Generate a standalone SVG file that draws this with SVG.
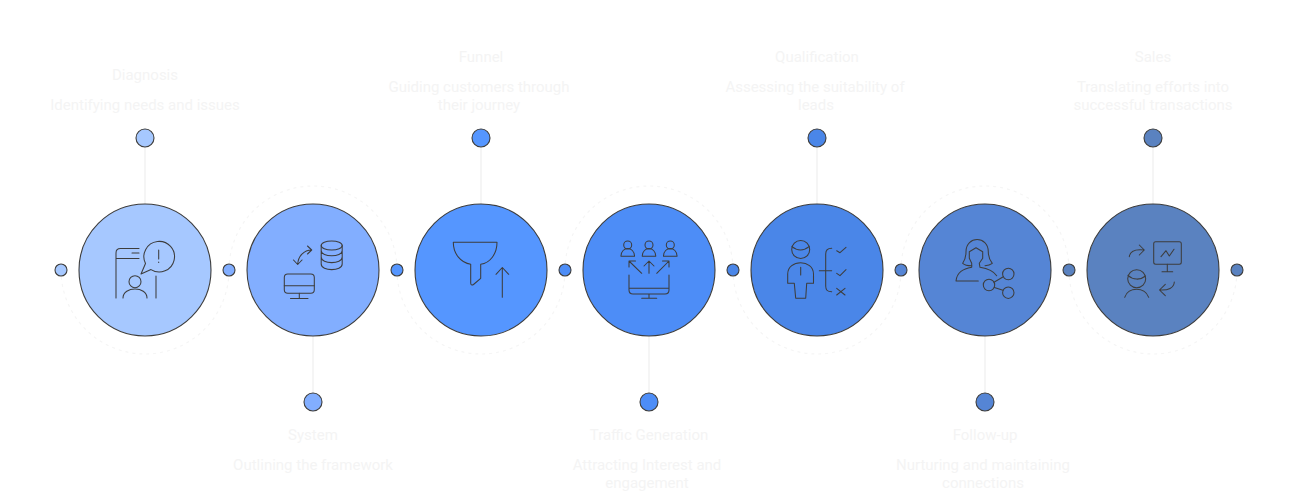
<svg xmlns="http://www.w3.org/2000/svg" width="1298" height="503" viewBox="0 0 1298 503">
<style>
.big{stroke:#3d3d3d;stroke-width:1.1}
.dot{stroke:#3d3d3d;stroke-width:1.1}
.ic{fill:none;stroke:#3d3d3d;stroke-width:1.05;stroke-linecap:round;stroke-linejoin:round}
.stem{fill:none;stroke:#f5f5f5;stroke-width:2}
.arc{fill:none;stroke:#f5f5f5;stroke-width:1.2;stroke-dasharray:3 4}
text{font-family:Roboto,"Liberation Sans",sans-serif;font-size:15px;fill:#f4f4f4;text-anchor:middle}
</style>
<rect width="1298" height="503" fill="#fff"/>
<g id="connectors">
<path class="arc" d="M61 270A84 84 0 0 0 229 270"/>
<path class="arc" d="M229 270A84 84 0 0 1 397 270"/>
<path class="arc" d="M397 270A84 84 0 0 0 565 270"/>
<path class="arc" d="M565 270A84 84 0 0 1 733 270"/>
<path class="arc" d="M733 270A84 84 0 0 0 901 270"/>
<path class="arc" d="M901 270A84 84 0 0 1 1069 270"/>
<path class="arc" d="M1069 270A84 84 0 0 0 1237 270"/>
<path class="stem" d="M145 147V204M313 336V393M481 147V204M649 336V393M817 147V204M985 336V393M1153 147V204"/>
</g>
<g id="dots">
<circle class="dot" cx="61" cy="270" r="6" fill="#a6c8ff"/>
<circle class="dot" cx="229" cy="270" r="6" fill="#82aeff"/>
<circle class="dot" cx="397" cy="270" r="6" fill="#5596ff"/>
<circle class="dot" cx="565" cy="270" r="6" fill="#4d8df7"/>
<circle class="dot" cx="733" cy="270" r="6" fill="#4a86e8"/>
<circle class="dot" cx="901" cy="270" r="6" fill="#5585d5"/>
<circle class="dot" cx="1069" cy="270" r="6" fill="#5a82c0"/>
<circle class="dot" cx="1237" cy="270" r="6" fill="#5a82c0"/>
</g>
<g id="node-diagnosis">
<circle class="big" cx="145" cy="270" r="66" fill="#a6c8ff"/>
<circle class="dot" cx="145" cy="138" r="9" fill="#a6c8ff"/>
<text x="145" y="80">Diagnosis</text>
<text x="145" y="110">Identifying needs and issues</text>
<path class="ic" d="M116 298V253Q116 248.500 120.500 248.500H139M116 258.500H139M132 253H139M156 276V298"/>
<path class="ic" d="M145.500 263.500L141 274L151 269.600A15.300 15.300 0 1 0 145.500 263.500ZM158.700 250V259M158.700 262V262.500"/>
<circle class="ic" cx="135" cy="281.700" r="6"/>
<path class="ic" d="M123 298C123 286 147 286 147 298"/>
</g>
<g id="node-system">
<circle class="big" cx="313" cy="270" r="66" fill="#82aeff"/>
<circle class="dot" cx="313" cy="402" r="9" fill="#82aeff"/>
<text x="313" y="440">System</text>
<text x="313" y="470">Outlining the framework</text>
<ellipse class="ic" cx="331.700" cy="245.500" rx="10.500" ry="4.500"/>
<path class="ic" d="M321.200 245.500V264C321.200 271.500 342.200 271.500 342.200 264V245.500M321.200 250.500C321.200 257.500 342.200 257.500 342.200 250.500M321.200 257C321.200 264.500 342.200 264.500 342.200 257"/>
<path class="ic" d="M311.700 250C304 250 298 256 297.700 264.500M307.500 246L311.700 250L307.500 254M293.500 260L297.700 264.500L302 260"/>
<rect class="ic" x="284.300" y="274" width="30" height="19.300" rx="3.500"/>
<path class="ic" d="M284.300 285.700H314.300M299.300 293.300V298.500M290.500 298.500H308"/>
</g>
<g id="node-funnel">
<circle class="big" cx="481" cy="270" r="66" fill="#5596ff"/>
<circle class="dot" cx="481" cy="138" r="9" fill="#5596ff"/>
<text x="481" y="62">Funnel</text>
<text x="479" y="92">Guiding customers through</text>
<text x="479" y="110">their journey</text>
<path class="ic" d="M453.300 242.300H497M453.300 242.300C453.300 254 461 263 470.700 264.300V283C470.700 285 472 285.500 473.500 284.500L480.700 278.300V264.300C490 263 497 254 497 242.300M502.300 297.300V267.500M496 274.300L502.300 267.500L508.700 274.300"/>
</g>
<g id="node-traffic">
<circle class="big" cx="649" cy="270" r="66" fill="#4d8df7"/>
<circle class="dot" cx="649" cy="402" r="9" fill="#4d8df7"/>
<text x="649" y="440">Traffic Generation</text>
<text x="647" y="470">Attracting Interest and</text>
<text x="647" y="488">engagement</text>
<circle class="ic" cx="627.700" cy="245" r="4"/><circle class="ic" cx="649" cy="245" r="4"/><circle class="ic" cx="670.300" cy="245" r="4"/>
<path class="ic" d="M621 256.300C621 246 634.500 246 634.500 256.300ZM642.300 256.300C642.300 246 655.700 246 655.700 256.300ZM663.500 256.300C663.500 246 677 246 677 256.300Z"/>
<path class="ic" d="M641.700 273.300L629 261M629 267V261H635.500M649 273.300V261.500M644 266L649 261L654 266M656.700 273.300L669 261M662.500 261H669V267"/>
<path class="ic" d="M629 275V290Q629 294 633 294H665Q669 294 669 290V275M629 288.300H669M649 294V298.300M641.700 298.300H656.700"/>
</g>
<g id="node-qualification">
<circle class="big" cx="817" cy="270" r="66" fill="#4a86e8"/>
<circle class="dot" cx="817" cy="138" r="9" fill="#4a86e8"/>
<text x="817" y="62">Qualification</text>
<text x="815" y="92">Assessing the suitability of</text>
<text x="816" y="110">leads</text>
<circle class="ic" cx="800.700" cy="249.500" r="9"/>
<path class="ic" d="M792 246.700C797 251 804 251 809 246.700M787.700 283.300V274C787.700 259 813.500 259 813.500 274V283.300H806.700L805.700 298.300H795.700L794.300 283.300ZM800.700 267.300V275"/>
<path class="ic" d="M831.700 248.300C827 248.300 825.700 251 825.700 254V286C825.700 290 827 291.700 831.700 291.700M819.300 270.700H831.700M836.700 250.700L840 252.700L846 247.300M836.700 273.300L840 275.700L846 269.700M836.700 288.300L845 295M845 288.300L836.700 295"/>
</g>
<g id="node-followup">
<circle class="big" cx="985" cy="270" r="66" fill="#5585d5"/>
<circle class="dot" cx="985" cy="402" r="9" fill="#5585d5"/>
<text x="985" y="440">Follow-up</text>
<text x="983" y="470">Nurturing and maintaining</text>
<text x="983" y="488">connections</text>
<path class="ic" d="M971.700 265.700C968 265.700 964.500 265 962.700 263.300C965 260 966 256 966 251.700C966 235.500 988.300 235.500 988.300 251.700C988.300 256 989.500 260 992.300 263.300C990 265 987.500 265.500 985 265.700"/>
<path class="ic" d="M969.300 251.700L976 247.700L982.700 251.700V258.300L979.300 263.300L980 267.300C987 268.500 993.500 271 996.700 275.700M969.300 251.700V258.300L971.700 263.300V267.300C963 269 957 272 956 281H978.300"/>
<circle class="ic" cx="989" cy="285" r="5.700"/><circle class="ic" cx="1008.300" cy="274" r="5.700"/><circle class="ic" cx="1008.300" cy="292.700" r="5.700"/>
<path class="ic" d="M994 282.200L1003.300 276.800M994.300 287.500L1003 290.300"/>
</g>
<g id="node-sales">
<circle class="big" cx="1153" cy="270" r="66" fill="#5a82c0"/>
<circle class="dot" cx="1153" cy="138" r="9" fill="#5a82c0"/>
<text x="1153" y="62">Sales</text>
<text x="1153" y="92">Translating efforts into</text>
<text x="1153" y="110">successful transactions</text>
<path class="ic" d="M1129.300 256.700C1130 251 1136 249 1144.300 250M1139.300 245L1144.300 250L1139.300 255"/>
<rect class="ic" x="1153.700" y="241.700" width="27.600" height="22.600" rx="2"/>
<path class="ic" d="M1167.300 264.300V271.700M1162 271.700H1172.700M1161 256.700L1166 250.700L1169.300 256L1174 249.300"/>
<circle class="ic" cx="1136.700" cy="278.700" r="9"/>
<path class="ic" d="M1128 275.300C1133 280 1140 280.500 1145.500 276M1124.700 297.300C1128 286.500 1145 286.500 1148.700 297.300"/>
<path class="ic" d="M1174.300 282C1174 288 1168 290.500 1160 290M1165.300 284.300L1159.500 290L1165.300 295.700"/>
</g>
</svg>
